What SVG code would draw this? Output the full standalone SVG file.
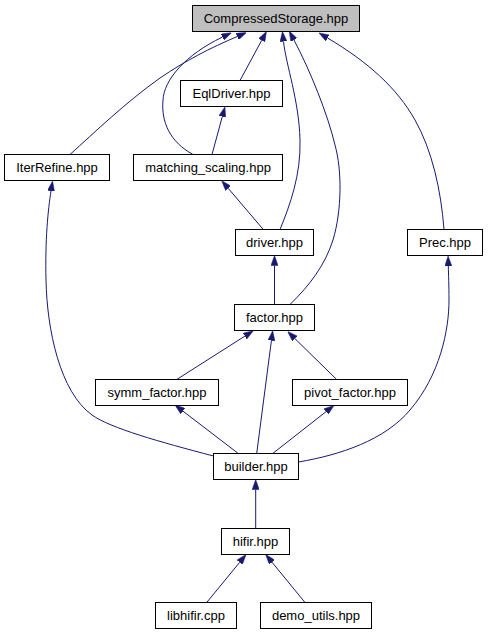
<svg xmlns="http://www.w3.org/2000/svg" width="488" height="635" viewBox="0 0 488 635">
<style>
.n rect{fill:#ffffff;stroke:#000000;stroke-width:1}
.n text{font-family:"Liberation Sans",Arial,sans-serif;font-size:13px;text-anchor:middle;fill:#000000}
#edges path{fill:none;stroke:#191970;stroke-width:1;marker-end:url(#ah)}
</style>
<defs>
<marker id="ah" viewBox="0 0 10 7" refX="0" refY="3.5" markerWidth="10" markerHeight="7" markerUnits="userSpaceOnUse" orient="auto">
<path d="M0,0 L10,3.5 L0,7 Z" fill="#191970" stroke="#191970" stroke-width="0.5"/>
</marker>
</defs>
<rect x="0" y="0" width="488" height="635" fill="#ffffff"/>
<g id="edges">
<path d="M240,80.5 L261.7,40.3"/>
<path d="M70,154.5 C95,132 125,103 160,78 C185,61 210,48 237.3,36.5"/>
<path d="M193,154.5 C170,142 161,122 163,100 C164,80 185,55 222.4,37.1"/>
<path d="M280,229.5 C290,205 301,175 300,140 C299,100 286,65 283.5,41.5"/>
<path d="M290,304.5 C310,285 325,265 333,240 C342,210 342,170 335,145 C328,115 310,70 293.9,39.9"/>
<path d="M444,229.5 C441,190 432,150 415,120 C397,88 368,62 327.6,38"/>
<path d="M212,154.5 L222.3,116.6"/>
<path d="M263.3,229.5 L228.2,188.3"/>
<path d="M213.5,456 C160,442 110,428 92,415 C60,392 47,330 46,280 C45,240 48,210 51,191"/>
<path d="M274.5,304.5 L274.5,265.5"/>
<path d="M176.7,379.5 L244.9,336.1"/>
<path d="M256.7,453.5 L271.4,340.6"/>
<path d="M336.7,379.5 L294.8,338.5"/>
<path d="M238.3,453.5 L182.9,411.1"/>
<path d="M272.7,453.5 L326.1,411.6"/>
<path d="M298.5,462 C340,455 385,440 410,410 C440,375 449,330 449,300 C449,285 448.5,275 448.3,266"/>
<path d="M255.7,528.5 L255.7,489.5"/>
<path d="M206.7,602.5 L239.7,562.3"/>
<path d="M305,602.5 L272,562.2"/>
</g>
<g id="n_CompressedStorage" class="n"><rect x="192.5" y="5.5" width="167" height="26" style="fill:#bfbfbf"/><text x="276" y="23">CompressedStorage.hpp</text></g>
<g id="n_EqlDriver" class="n"><rect x="180.5" y="80.5" width="102" height="26"/><text x="231.5" y="98">EqlDriver.hpp</text></g>
<g id="n_IterRefine" class="n"><rect x="4.5" y="154.5" width="105" height="26"/><text x="57" y="172">IterRefine.hpp</text></g>
<g id="n_matching_scaling" class="n"><rect x="133.5" y="154.5" width="149" height="26"/><text x="208" y="172">matching_scaling.hpp</text></g>
<g id="n_driver" class="n"><rect x="235.5" y="229.5" width="78" height="26"/><text x="274.5" y="247">driver.hpp</text></g>
<g id="n_Prec" class="n"><rect x="407.5" y="229.5" width="75" height="26"/><text x="445" y="247">Prec.hpp</text></g>
<g id="n_factor" class="n"><rect x="234.5" y="304.5" width="80" height="26"/><text x="274.5" y="322">factor.hpp</text></g>
<g id="n_symm_factor" class="n"><rect x="95.5" y="379.5" width="123" height="26"/><text x="157" y="397">symm_factor.hpp</text></g>
<g id="n_pivot_factor" class="n"><rect x="292.5" y="379.5" width="115" height="26"/><text x="350" y="397">pivot_factor.hpp</text></g>
<g id="n_builder" class="n"><rect x="213.5" y="453.5" width="85" height="26"/><text x="256" y="471">builder.hpp</text></g>
<g id="n_hifir" class="n"><rect x="221.5" y="528.5" width="68" height="26"/><text x="255.5" y="546">hifir.hpp</text></g>
<g id="n_libhifir" class="n"><rect x="155.5" y="602.5" width="81" height="26"/><text x="196" y="620">libhifir.cpp</text></g>
<g id="n_demo_utils" class="n"><rect x="260.5" y="602.5" width="111" height="26"/><text x="316" y="620">demo_utils.hpp</text></g>
</svg>
